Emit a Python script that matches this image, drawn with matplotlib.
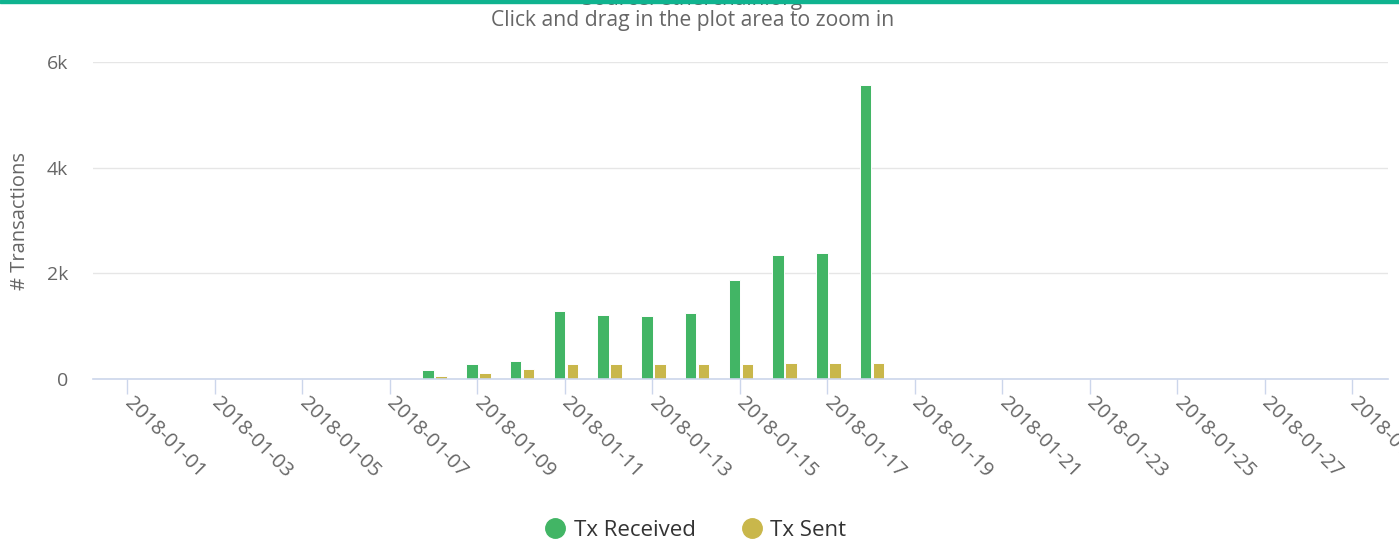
import numpy as np
import matplotlib
matplotlib.use("Agg")
import matplotlib.pyplot as plt
import matplotlib.dates as mdates
from matplotlib.ticker import FuncFormatter
import datetime as dt

plt.rcParams['font.family'] = ['Open Sans', 'DejaVu Sans']

# data
dates = [dt.datetime(2018, 1, d) for d in range(1, 19)]
received = [0, 0, 0, 0, 0, 0, 10, 175, 280, 340, 1290, 1220, 1190, 1250, 1880, 2355, 2385, 5560]
sent = [0, 0, 0, 0, 0, 0, 2, 55, 110, 190, 280, 280, 280, 280, 280, 310, 310, 310]
tick_dates = [dt.datetime(2018, 1, d) for d in range(1, 30, 2)]

green = '#42b565'
yellow = '#c9b74b'
axis_col = '#ccd6eb'

fig = plt.figure(figsize=(13.99, 5.44), dpi=100)
ax = fig.add_axes([93/1399, 1-379/544, (1388-93)/1399, (379-62)/544])

x = mdates.date2num(dates)
ax.bar(x - 0.12, received, width=0.26, color=green, edgecolor='white', linewidth=0.7, zorder=3, label='Tx Received')
ax.bar(x + 0.177, sent, width=0.26, color=yellow, edgecolor='white', linewidth=0.7, zorder=3, label='Tx Sent')

x0 = mdates.date2num(dt.datetime(2018, 1, 1))
ax.set_xlim(x0 - 0.78, x0 + 28.82)
ax.set_ylim(0, 6000)
ax.set_yticks([0, 2000, 4000, 6000])
ax.yaxis.set_major_formatter(FuncFormatter(lambda v, p: '0' if v == 0 else f'{int(v/1000)}k'))
ax.grid(axis='y', color='#e6e6e6', linewidth=1, zorder=0)
for s in ['top', 'right', 'left']:
    ax.spines[s].set_visible(False)
ax.spines['bottom'].set_color(axis_col)
ax.spines['bottom'].set_linewidth(1.2)
ax.spines['bottom'].set_zorder(4)

ax.set_xticks(mdates.date2num(tick_dates))
ax.set_xticklabels([d.strftime('%Y-%m-%d') for d in tick_dates])
ax.tick_params(axis='x', length=10.5, width=1, color=axis_col, pad=5, labelsize=14.5, labelcolor='#666666')
ax.tick_params(axis='y', length=0, pad=18, labelsize=14, labelcolor='#666666')
for lab in ax.get_xticklabels():
    lab.set_rotation(-45)
    lab.set_ha('left')
    lab.set_va('center')
    lab.set_rotation_mode('anchor')

ax.set_ylabel('# Transactions', fontsize=14.5, color='#666666', labelpad=12)

# titles (subtitle is cut off at the top edge)
fig.text(0.495, 1 - 5.5/544, 'Source: etherchain.org', ha='center', va='baseline', fontsize=15, color='#666666')
fig.text(0.495, 1 - 26/544, 'Click and drag in the plot area to zoom in', ha='center', va='baseline', fontsize=15.2, color='#666666')

# teal bar along the top
fig.add_artist(plt.Rectangle((0, 1 - 3/544), 1, 3/544, transform=fig.transFigure, color='#0fb38f', zorder=10))

leg = fig.legend(handles=[
    plt.Line2D([], [], marker='o', linestyle='', markersize=14, color=green, label='Tx Received'),
    plt.Line2D([], [], marker='o', linestyle='', markersize=14, color=yellow, label='Tx Sent')],
    loc='center', bbox_to_anchor=(0.497, 1 - 530/544), ncol=2, frameon=False,
    fontsize=16, handletextpad=0.35, columnspacing=2.0, handlelength=1.0)
for t in leg.get_texts():
    t.set_color('#333333')

fig.savefig('out.png', dpi=100)
